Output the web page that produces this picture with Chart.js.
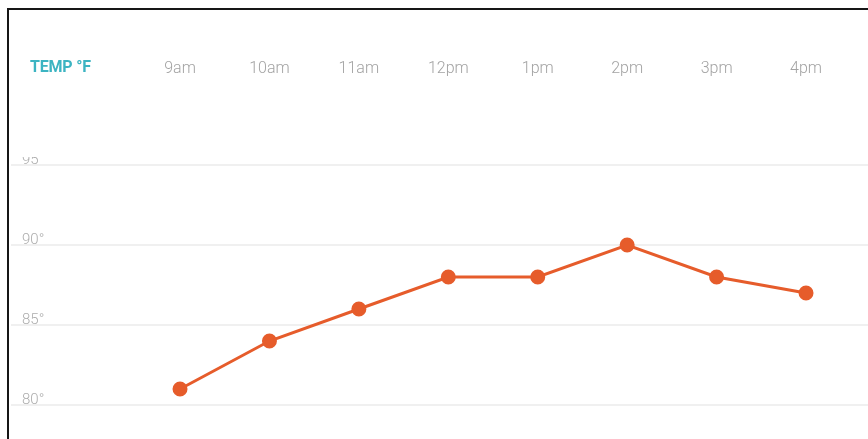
<!DOCTYPE html>
<html>
<head>
<meta charset="utf-8">
<script src="https://cdn.jsdelivr.net/npm/chart.js@4/dist/chart.umd.min.js"></script>
<style>
  html, body { margin: 0; padding: 0; background: #fff; width: 868px; height: 439px; overflow: hidden; }
  #wrap { position: relative; width: 868px; height: 439px; }
  #c { position: absolute; left: 0; top: 0; }
  #frame { position: absolute; left: 7px; top: 8px; width: 900px; height: 500px;
           border-top: 2px solid #161616; border-left: 2px solid #161616; pointer-events: none; }
  #ttl { position: absolute; left: 30px; top: 57px; font-family: Roboto, "Open Sans", sans-serif;
         font-weight: 700; font-size: 16px; color: #3cb4c2; line-height: 20px; letter-spacing: -0.2px; }
</style>
</head>
<body>
<div id="wrap">
  <canvas id="c" width="868" height="439"></canvas>
  <div id="frame"></div>
  <div id="ttl">TEMP °F</div>
</div>
<script>
const hours = ['9am', '10am', '11am', '12pm', '1pm', '2pm', '3pm', '4pm'];
const temps = [81, 84, 86, 88, 88, 90, 88, 87];
const yTicks = [80, 85, 90, 95];

const points = temps.map((t, i) => ({ x: i, y: t }));

function noPad(scale) {
  scale.paddingLeft = 0; scale.paddingRight = 0;
  scale.paddingTop = 0; scale.paddingBottom = 0;
}

const coverTop = {
  id: 'coverTop',
  afterDraw(chart) {
    const ctx = chart.ctx;
    ctx.save();
    ctx.fillStyle = '#ffffff';
    const y0 = 90;
    ctx.fillRect(0, y0, chart.width, chart.chartArea.top - y0);
    ctx.restore();
  }
};

new Chart(document.getElementById('c'), {
  type: 'line',
  data: {
    datasets: [{
      data: points,
      borderColor: '#e65c2b',
      backgroundColor: '#e65c2b',
      pointBackgroundColor: '#e65c2b',
      pointBorderColor: '#e65c2b',
      borderWidth: 3,
      pointRadius: 6,
      pointHoverRadius: 6,
      tension: 0,
      fill: false,
      clip: false
    }]
  },
  options: {
    responsive: false,
    animation: false,
    events: [],
    layout: { autoPadding: false, padding: 0 },
    plugins: { legend: { display: false }, tooltip: { enabled: false } },
    scales: {
      x: {
        type: 'linear',
        position: 'top',
        min: -1.89,
        max: 7.693,
        afterBuildTicks(scale) { scale.ticks = hours.map((_, i) => ({ value: i })); },
        afterFit(scale) { noPad(scale); scale.height = 157; },
        ticks: {
          callback: (v) => hours[v],
          color: '#a3a3a3',
          font: { family: 'Roboto', size: 16, weight: '300' },
          padding: 78,
          maxRotation: 0,
          autoSkip: false
        },
        grid: { display: false, drawTicks: false },
        border: { display: false }
      },
      y: {
        type: 'linear',
        min: 77.875,
        max: 95.5,
        afterBuildTicks(scale) { scale.ticks = yTicks.map(v => ({ value: v })); },
        afterFit(scale) { noPad(scale); scale.width = 11; },
        ticks: {
          mirror: true,
          padding: 11,
          labelOffset: -5,
          callback: (v) => v + '°',
          color: '#adadad',
          font: { family: 'Roboto', size: 15, weight: '300' }
        },
        grid: { color: '#f0f0f0', lineWidth: 2, drawTicks: false },
        border: { display: false }
      }
    }
  },
  plugins: [coverTop]
});
</script>
</body>
</html>
